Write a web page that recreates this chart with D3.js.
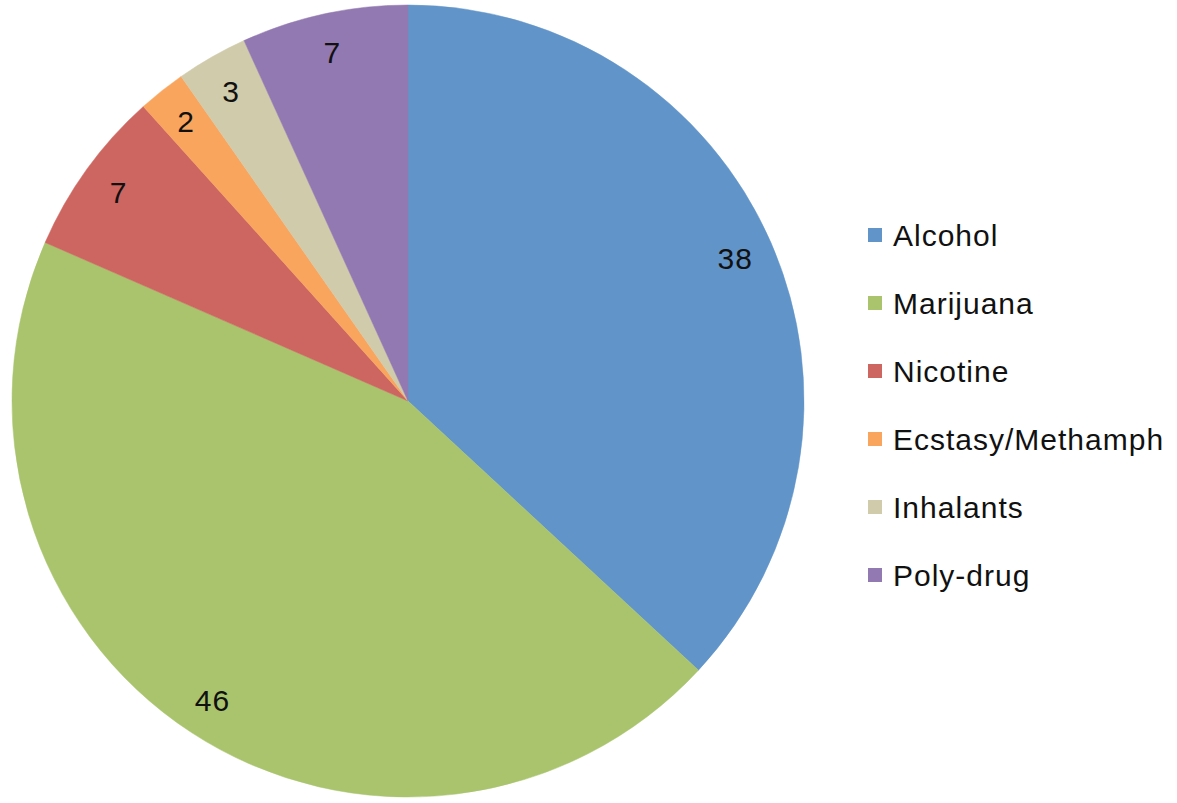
<!DOCTYPE html>
<html>
<head>
<meta charset="utf-8">
<script src="https://cdn.jsdelivr.net/npm/d3@7"></script>
<style>
  html, body { margin: 0; padding: 0; background: #fff; }
  svg { display: block; }
</style>
</head>
<body>
<svg id="chart" width="1177" height="803"></svg>
<script>
// Substance categories and their counts
const categories = ["Alcohol", "Marijuana", "Nicotine", "Ecstasy/Methamph", "Inhalants", "Poly-drug"];
const values = [38, 46, 7, 2, 3, 7];
const colors = ["#6194c9", "#a9c46d", "#cd6661", "#f9a55d", "#d0cbab", "#9279b1"];

const svg = d3.select("#chart");

const cx = 408, cy = 401, radius = 396;
const labelRadius = 357;

const data = categories.map((c, i) => ({ name: c, value: values[i], color: colors[i] }));

const pie = d3.pie()
  .value(d => d.value)
  .sort(null)
  .startAngle(0)
  .endAngle(2 * Math.PI);

const arc = d3.arc().innerRadius(0).outerRadius(radius);
const labelArc = d3.arc().innerRadius(labelRadius).outerRadius(labelRadius);

const g = svg.append("g").attr("transform", `translate(${cx},${cy})`);
const arcs = pie(data);

g.selectAll("path.slice")
  .data(arcs)
  .join("path")
  .attr("class", "slice")
  .attr("d", arc)
  .attr("fill", d => d.data.color)
  .attr("stroke", d => d.data.color)
  .attr("stroke-width", 0.5);

g.selectAll("text.value")
  .data(arcs)
  .join("text")
  .attr("class", "value")
  .attr("transform", d => `translate(${labelArc.centroid(d)})`)
  .attr("text-anchor", "middle")
  .attr("dy", "0.36em")
  .attr("font-family", "Liberation Sans, Arial, sans-serif")
  .attr("font-size", 30)
  .attr("letter-spacing", 1)
  .attr("fill", "#111")
  .text(d => d.data.value);

// Legend
const legendY = d3.scalePoint()
  .domain(categories)
  .range([235, 575]);

const legend = svg.append("g");
const items = legend.selectAll("g.item")
  .data(data)
  .join("g")
  .attr("class", "item")
  .attr("transform", d => `translate(868,${legendY(d.name)})`);

items.append("rect")
  .attr("x", 0)
  .attr("y", -7)
  .attr("width", 14)
  .attr("height", 14)
  .attr("fill", d => d.color);

items.append("text")
  .attr("x", 25)
  .attr("dy", "0.36em")
  .attr("font-family", "Liberation Sans, Arial, sans-serif")
  .attr("font-size", 30)
  .attr("letter-spacing", 1)
  .attr("fill", "#111")
  .text(d => d.name);
</script>
</body>
</html>
